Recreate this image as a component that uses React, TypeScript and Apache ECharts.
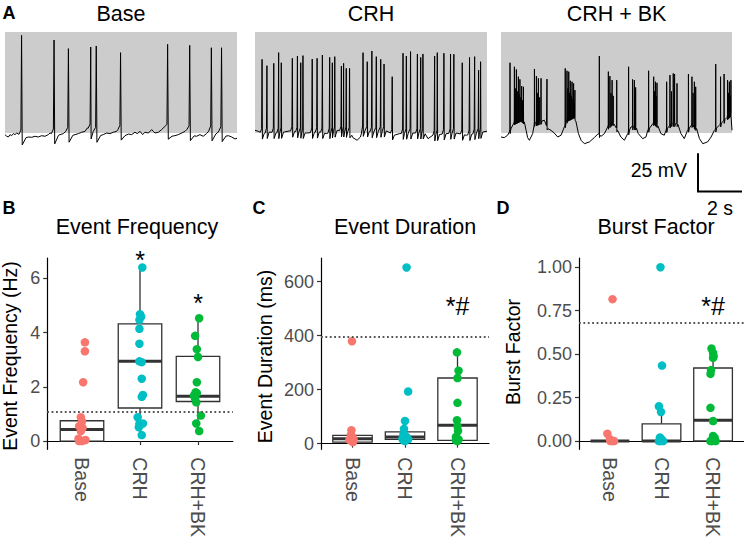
import React, { useEffect, useRef } from "react";
import * as echarts from "echarts";

const FONT = "'Liberation Sans', Arial, Helvetica, sans-serif";
const GROUPS = ["Base", "CRH", "CRH+BK"];
const GROUP_COLORS = ["#F8766D", "#00BFC4", "#00BA38"];

// ---------- Panel A traces (time in s, membrane potential in mV) ----------
const baseSpikeT = [0.75, 2.22, 2.87, 3.88, 4.13, 5.23, 7.36, 8.36, 9.34, 9.8];
const baseSpikeV = [5.8, 2.6, -3.2, -2.1, -1.4, -5.9, -0.3, -1.0, -2.6, -2.6];
const baseRestT = [0.0, 0.08, 0.15, 0.23, 0.3, 0.38, 0.45, 0.53, 0.9, 1.06, 1.21, 1.36, 1.51, 1.66, 1.81, 1.96, 2.04, 2.34, 2.49, 2.64, 2.75, 3.02, 3.17, 3.32, 3.47, 3.62, 3.73, 4.3, 4.45, 4.6, 4.75, 4.9, 5.05, 5.13, 5.43, 5.58, 5.73, 5.88, 5.99, 6.11, 6.23, 6.33, 6.49, 6.64, 6.71, 6.79, 6.94, 7.09, 7.24, 7.54, 7.69, 7.84, 8.0, 8.15, 8.25, 8.52, 8.67, 8.82, 8.97, 9.12, 9.25, 9.5, 9.61, 9.7, 9.95, 10.11, 10.26, 10.41, 10.5];
const baseRestV = [-61.1, -62.2, -62.7, -61.1, -61.8, -60.4, -61.1, -60.0, -63.4, -62.7, -62.9, -62.2, -62.7, -61.8, -62.2, -61.1, -60.0, -62.2, -61.1, -60.4, -58.9, -61.8, -61.1, -60.4, -59.5, -58.9, -56.6, -61.8, -61.1, -60.0, -60.4, -59.5, -58.9, -57.3, -61.8, -60.7, -61.1, -59.5, -60.4, -58.9, -61.1, -59.5, -60.0, -57.7, -58.9, -60.0, -59.5, -57.7, -55.5, -62.2, -61.8, -61.1, -60.0, -58.9, -57.3, -61.8, -62.2, -61.1, -62.2, -60.4, -58.2, -61.1, -60.0, -58.2, -62.2, -61.8, -62.7, -64.0, -63.5];

const crhSpikeT = [0.32, 0.54, 0.85, 1.07, 1.19, 1.69, 1.92, 2.07, 2.17, 2.59, 2.81, 3.05, 3.38, 3.5, 3.61, 3.91, 4.01, 4.13, 4.28, 4.89, 5.08, 5.29, 5.49, 5.69, 5.84, 6.21, 6.7, 6.85, 7.04, 7.35, 7.5, 7.6, 8.13, 8.25, 8.55, 8.85, 9.0, 9.38, 9.71, 9.94, 10.12, 10.21];
const crhSpikeV = [-10.4, -14.7, -13.1, -5.9, -12.7, -9.7, -8.2, -12.7, -7.9, -10.2, -9.7, -7.5, -9.1, -12.7, -8.6, -14.9, -13.1, -16.5, -16.5, -5.9, -12.0, -4.8, -8.6, -10.4, -13.6, -22.1, -6.3, -8.2, -5.2, -6.8, -9.1, -6.8, -8.2, -5.9, -6.3, -6.8, -7.0, -12.7, -9.1, -8.6, -17.6, -12.0];
const crhRestT = [0, 0.14, 0.36, 0.66, 0.97, 1.34, 1.57, 2.32, 2.93, 3.23, 3.76, 4.31, 4.43, 4.62, 4.77, 4.86, 5.34, 5.94, 6.32, 6.55, 7.15, 7.68, 7.83, 8.05, 8.66, 9.11, 9.56, 10.32, 10.5];
const crhRestV = [-58.2, -58.8, -60.4, -59.3, -60, -59.3, -58.6, -60, -59.3, -60.4, -58.2, -59.3, -63.1, -64.9, -62.7, -58.2, -59.3, -58.6, -61.5, -60.4, -60, -60, -63.8, -61.5, -60.4, -60, -61.5, -59.3, -58.8];

const bkSpikeT = [0.41, 0.61, 0.65, 0.7, 0.74, 0.79, 0.82, 0.86, 0.9, 0.94, 0.98, 1.02, 1.52, 1.61, 1.65, 1.7, 1.76, 1.82, 2.09, 2.92, 3.0, 3.04, 3.08, 3.12, 3.15, 3.19, 3.23, 3.27, 3.3, 3.33, 3.36, 4.47, 4.88, 4.95, 5.0, 5.05, 5.1, 5.26, 5.8, 5.98, 6.06, 6.09, 6.12, 6.71, 6.94, 6.98, 7.02, 7.05, 7.09, 7.53, 7.68, 7.75, 7.83, 7.89, 8.0, 8.52, 8.68, 8.73, 8.79, 8.82, 8.85, 9.76, 9.98, 10.14, 10.3, 10.34, 10.38, 10.42, 10.45];
const bkSpikeV = [-12.7, -15.4, -30, -17.2, -32, -22.1, -34, -23.9, -36, -28.4, -38, -28.9, -16.9, -21.7, -33, -23.2, -36, -23.2, -23.7, -16.5, -18.1, -30, -18.7, -33, -24.8, -35, -25.5, -37, -26.6, -40, -31.1, -8.2, -18.7, -21.7, -33, -24.4, -35, -24.4, -15.4, -23.9, -24.4, -34, -29.3, -18.1, -22.1, -32, -25.5, -35, -26.2, -25.5, -21.0, -32, -19.9, -20.3, -26.6, -20.3, -22.1, -33, -25.5, -36, -28.9, -13.6, -22.1, -20.3, -24.4, -33, -25.5, -35, -24.4];
const bkRestT = [0, 0.15, 0.3, 0.38, 0.61, 0.91, 1.06, 1.14, 1.21, 1.29, 1.44, 1.52, 1.97, 2.12, 2.27, 2.42, 2.58, 2.73, 2.88, 3.03, 3.33, 3.41, 3.52, 3.64, 3.79, 4.02, 4.24, 4.42, 4.55, 4.7, 4.85, 5.08, 5.3, 5.45, 5.61, 5.76, 5.91, 6.14, 6.24, 6.44, 6.59, 6.67, 6.97, 7.12, 7.27, 7.42, 7.5, 7.73, 8.03, 8.18, 8.33, 8.48, 8.71, 8.89, 9.02, 9.17, 9.39, 9.55, 9.7, 9.92, 10.15, 10.45, 10.5];
const bkRestV = [-62.7, -63.1, -61.5, -59.3, -52.5, -50.3, -52.5, -58.2, -63.1, -64.9, -60.4, -53.6, -51.4, -57.0, -58.2, -60, -62.7, -61.5, -55.9, -50.3, -48.0, -52.5, -60.4, -64.9, -67.2, -66.0, -63.1, -60.4, -62.2, -60.4, -55.9, -52.5, -58.2, -62.7, -64.9, -60.4, -55.9, -55.9, -60.4, -63.8, -62.7, -58.2, -52.5, -54.8, -60.4, -61.5, -58.2, -53.7, -53.7, -60.4, -63.8, -58.2, -53.7, -57.0, -63.8, -67.2, -66.0, -62.7, -58.2, -54.8, -51.4, -46.9, -58.2];

const TRACE_TITLES = ["Base", "CRH", "CRH + BK"];

// ---------- Panel B: Event Frequency (Hz) ----------
const freqBaseY = [3.64, 3.31, 2.17, 0.88, 0.73, 0.55, 0.49, 0.37, 0.09, 0.0, 0.04, 0.0];
const freqBaseJ = [0.05, 0.05, 0.02, -0.02, 0.0, -0.05, 0.01, -0.02, -0.06, 0.0, 0.06, -0.05];
const freqCrhY = [6.4, 4.68, 4.59, 4.47, 4.14, 3.59, 2.94, 2.91, 2.3, 1.7, 1.63, 0.88, 0.65, 0.64, 0.51, 0.22];
const freqCrhJ = [0.04, 0, 0.02, -0.01, -0.01, -0.01, -0.01, 0.03, 0.03, 0.05, 0.03, -0.04, 0.05, -0.01, -0.02, 0.03];
const freqBkY = [4.53, 3.88, 3.39, 3.1, 2.17, 1.8, 1.77, 1.68, 1.57, 1.43, 0.94, 0.65, 0.37];
const freqBkJ = [0.02, -0.05, -0.02, 0, -0.02, -0.04, -0.02, -0.07, -0.05, -0.03, 0.05, -0.03, 0.02];
const freqBox = [[0, 0, 0.43, 0.75, 0.88], [0.22, 1.22, 2.94, 4.32, 6.4], [0.37, 1.46, 1.65, 3.12, 4.53]];
const freqRef = 1.08;
const freqTicks = [0, 2, 4, 6];
const freqSigX = [2, 3];
const freqSigY = [6.66, 5.1];
const freqSigText = ["*", "*"];

// ---------- Panel C: Event Duration (ms) ----------
const durBaseY = [379, 50, 33, 25, 18, 16, 10, 6, 14];
const durBaseJ = [-0.01, -0.02, -0.03, 0, -0.04, 0.02, -0.02, 0.01, -0.06];
const durCrhY = [652, 193, 84, 55, 34, 25, 18, 16, 10, 12];
const durCrhJ = [0.03, 0.06, 0, -0.02, -0.03, 0.03, -0.05, 0.06, 0, -0.03];
const durBkY = [338, 270, 243, 151, 87, 65, 47, 25, 16, 12, 10];
const durBkJ = [-0.01, 0.02, 0, 0, -0.01, 0, 0.01, -0.03, 0.02, -0.03, 0];
const durBox = [[6, 6, 18, 31, 50], [10, 16, 25, 44, 84], [10, 12, 68, 243, 338]];
const durRef = 395;
const durTicks = [0, 200, 400, 600];
const durSigX = [3];
const durSigY = [510];
const durSigText = ["*#"];

// ---------- Panel D: Burst Factor ----------
const burstBaseY = [0.816, 0.042, 0.01, 0, 0, 0];
const burstBaseJ = [0.05, -0.05, 0, 0.05, 0.01, 0.08];
const burstCrhY = [1.0, 0.434, 0.2, 0.167, 0.02, 0.01, 0, 0, 0];
const burstCrhJ = [-0.02, 0.01, -0.05, -0.01, -0.03, 0, 0.03, -0.05, -0.02];
const burstBkY = [0.532, 0.507, 0.488, 0.478, 0.408, 0.386, 0.191, 0.115, 0.029, 0.019, 0, 0, 0];
const burstBkJ = [-0.03, 0, 0.01, 0, -0.04, -0.05, -0.05, 0, 0, 0.03, -0.05, 0.05, -0.02];
const burstBox = [[0, 0, 0, 0, 0], [0, 0, 0, 0.099, 0.2], [0, 0, 0.119, 0.42, 0.532]];
const burstRef = 0.679;
const burstTicks = [0, 0.25, 0.5, 0.75, 1.0];
const burstSigX = [3];
const burstSigY = [0.778];
const burstSigText = ["*#"];

// ---------- helpers ----------
type Shape = { pre: number; post: number; ramp: number; dip: number };

function buildTrace(spT: number[], spV: number[], rT: number[], rV: number[], sh: Shape, tMax: number) {
  const restAt = (t: number) => {
    if (t <= rT[0]) return rV[0];
    for (let i = 1; i < rT.length; i++) {
      if (t <= rT[i]) {
        const f = (t - rT[i - 1]) / (rT[i] - rT[i - 1]);
        return rV[i - 1] + f * (rV[i] - rV[i - 1]);
      }
    }
    return rV[rV.length - 1];
  };
  const pts: number[][] = [];
  const wins: number[][] = [];
  spT.forEach((t, i) => {
    const gPrev = i > 0 ? t - spT[i - 1] : 1;
    const gNext = i < spT.length - 1 ? spT[i + 1] - t : 1;
    const pre = Math.min(sh.pre, gPrev * 0.45);
    const post = Math.min(sh.post, gNext * 0.45);
    const b = restAt(t);
    pts.push([t - pre, restAt(t - pre)]);
    pts.push([t - pre * 0.25, b + sh.ramp]);
    pts.push([t, spV[i]]);
    pts.push([t + post * 0.15, b - sh.dip]);
    pts.push([t + post, restAt(t + post)]);
    wins.push([t - pre, t + post]);
  });
  rT.forEach((t, i) => {
    if (!wins.some(([a, b]) => t > a && t < b)) pts.push([t, rV[i]]);
  });
  pts.sort((a, b) => a[0] - b[0]);
  return pts.filter((p) => p[0] >= 0 && p[0] <= tMax);
}

const TRACE_GRIDS = [
  { left: 5, width: 232 },
  { left: 255, width: 232 },
  { left: 501, width: 231 },
];

const BOX_PANELS = [
  {
    grid: { left: 47.2, width: 185.6 },
    yMin: -0.305, yMax: 6.75, ticks: freqTicks, fmt: (v: number) => String(v),
    ys: [freqBaseY, freqCrhY, freqBkY], js: [freqBaseJ, freqCrhJ, freqBkJ],
    box: freqBox, ref: freqRef, sigX: freqSigX, sigY: freqSigY, sigT: freqSigText,
  },
  {
    grid: { left: 321, width: 168 },
    yMin: -21, yMax: 687, ticks: durTicks, fmt: (v: number) => String(v),
    ys: [durBaseY, durCrhY, durBkY], js: [durBaseJ, durCrhJ, durBkJ],
    box: durBox, ref: durRef, sigX: durSigX, sigY: durSigY, sigT: durSigText,
  },
  {
    grid: { left: 579, width: 165 },
    yMin: -0.048, yMax: 1.053, ticks: burstTicks, fmt: (v: number) => v.toFixed(2),
    ys: [burstBaseY, burstCrhY, burstBkY], js: [burstBaseJ, burstCrhJ, burstBkJ],
    box: burstBox, ref: burstRef, sigX: burstSigX, sigY: burstSigY, sigT: burstSigText,
  },
];

function txt(text: string, x: number, y: number, size: number, opts: any = {}) {
  const weight = opts.bold ? "bold" : "normal";
  return {
    type: "text",
    x,
    y,
    rotation: opts.rotation || 0,
    silent: true,
    style: {
      text,
      x: 0,
      y: 0,
      fill: opts.color || "#000",
      font: `${weight} ${size}px ${FONT}`,
      fontSize: size,
      fontFamily: FONT,
      fontWeight: weight,
      align: opts.align || "center",
      textAlign: opts.align || "center",
      verticalAlign: "middle",
      textVerticalAlign: "middle",
    },
  };
}

function buildOption() {
  const grids: any[] = [];
  const xAxes: any[] = [];
  const yAxes: any[] = [];
  const series: any[] = [];

  const traces = [
    buildTrace(baseSpikeT, baseSpikeV, baseRestT, baseRestV, { pre: 0.12, post: 0.2, ramp: 4, dip: 6 }, 10.5),
    buildTrace(crhSpikeT, crhSpikeV, crhRestT, crhRestV, { pre: 0.08, post: 0.1, ramp: 3, dip: 4 }, 10.5),
    buildTrace(bkSpikeT, bkSpikeV, bkRestT, bkRestV, { pre: 0.02, post: 0.04, ramp: 1, dip: 2 }, 10.5),
  ];

  TRACE_GRIDS.forEach((g, i) => {
    grids.push({ left: g.left, width: g.width, top: 32, height: 101, show: true, backgroundColor: "#cccccc", borderWidth: 0 });
    xAxes.push({ type: "value", gridIndex: i, min: 0, max: 10.5, show: false });
    yAxes.push({ type: "value", gridIndex: i, min: -60, max: 8, show: false });
    series.push({
      type: "line",
      xAxisIndex: i,
      yAxisIndex: i,
      data: traces[i],
      showSymbol: false,
      symbol: "none",
      clip: false,
      silent: true,
      lineStyle: { color: "#000", width: 1 },
    });
  });

  BOX_PANELS.forEach((p, k) => {
    const idx = 3 + k;
    grids.push({ left: p.grid.left, width: p.grid.width, top: 258, height: 192 });
    xAxes.push({
      type: "value",
      gridIndex: idx,
      min: 0.4,
      max: 3.6,
      splitLine: { show: false },
      axisLine: { show: true, lineStyle: { color: "#000", width: 1.2 } },
      axisTick: { show: true, length: 4, customValues: [1, 2, 3], lineStyle: { color: "#333", width: 1.2 } },
      axisLabel: {
        customValues: [1, 2, 3],
        formatter: (v: number) => GROUPS[Math.round(v) - 1],
        rotate: -90,
        margin: 8,
        color: "#4D4D4D",
        fontSize: 19.5,
        fontFamily: FONT,
      },
    });
    yAxes.push({
      type: "value",
      gridIndex: idx,
      min: p.yMin,
      max: p.yMax,
      splitLine: { show: false },
      axisLine: { show: true, lineStyle: { color: "#000", width: 1.2 } },
      axisTick: { show: true, length: 4, customValues: p.ticks, lineStyle: { color: "#333", width: 1.2 } },
      axisLabel: {
        customValues: p.ticks,
        formatter: p.fmt,
        margin: 7,
        color: "#4D4D4D",
        fontSize: 18,
        fontFamily: FONT,
      },
    });
    series.push({
      type: "custom",
      xAxisIndex: idx,
      yAxisIndex: idx,
      z: 2,
      silent: true,
      data: p.box.map((b, i) => [i + 1, ...b]),
      encode: { x: 0, y: [1, 2, 3, 4, 5] },
      renderItem: (params: any, api: any) => {
        const x = api.value(0);
        const lo = api.coord([x, api.value(1)]);
        const q1 = api.coord([x, api.value(2)]);
        const md = api.coord([x, api.value(3)]);
        const q3 = api.coord([x, api.value(4)]);
        const hi = api.coord([x, api.value(5)]);
        const half = api.size([0.75, 0])[0] / 2;
        const ls = { stroke: "#333333", lineWidth: 1.3 };
        return {
          type: "group",
          children: [
            { type: "line", shape: { x1: lo[0], y1: lo[1], x2: q1[0], y2: q1[1] }, style: ls },
            { type: "line", shape: { x1: q3[0], y1: q3[1], x2: hi[0], y2: hi[1] }, style: ls },
            { type: "rect", shape: { x: q3[0] - half, y: q3[1], width: half * 2, height: q1[1] - q3[1] }, style: { fill: "#ffffff", stroke: "#333333", lineWidth: 1.3 } },
            { type: "line", shape: { x1: md[0] - half, y1: md[1], x2: md[0] + half, y2: md[1] }, style: { stroke: "#333333", lineWidth: 3 } },
          ],
        };
      },
    });
    p.ys.forEach((vals, g) => {
      series.push({
        type: "scatter",
        xAxisIndex: idx,
        yAxisIndex: idx,
        z: 3,
        silent: true,
        symbolSize: 8.5,
        itemStyle: { color: GROUP_COLORS[g], opacity: 1 },
        data: vals.map((v, i) => [g + 1 + p.js[g][i], v]),
        markLine:
          g === 0
            ? {
                silent: true,
                symbol: ["none", "none"],
                label: { show: false },
                lineStyle: { color: "#555555", width: 1.8, type: [1.8, 2.6], opacity: 1 },
                data: [{ yAxis: p.ref }],
              }
            : undefined,
      });
    });
    series.push({
      type: "scatter",
      xAxisIndex: idx,
      yAxisIndex: idx,
      z: 4,
      silent: true,
      symbolSize: 1,
      itemStyle: { color: "rgba(0,0,0,0)" },
      clip: false,
      data: p.sigX.map((x, i) => [x, p.sigY[i], p.sigT[i]]),
      encode: { x: 0, y: 1 },
      label: {
        show: true,
        position: "inside",
        formatter: (d: any) => d.data[2],
        color: "#000000",
        opacity: 1,
        textBorderWidth: 0,
        fontSize: 25,
        fontFamily: FONT,
      },
    });
  });

  const graphics: any[] = [
    txt("A", 2.5, 12.5, 18, { bold: true, align: "left" }),
    txt("B", 2.5, 207.5, 18, { bold: true, align: "left" }),
    txt("C", 252.5, 207.5, 18, { bold: true, align: "left" }),
    txt("D", 496.5, 207.5, 18, { bold: true, align: "left" }),
    txt("Event Frequency", 137, 227, 21.5),
    txt("Event Duration", 405, 227, 21.5),
    txt("Burst Factor", 656, 227, 21.5),
    txt("Event Frequency (Hz)", 9.5, 356, 19.5, { rotation: Math.PI / 2 }),
    txt("Event Duration (ms)", 265, 356.5, 19.5, { rotation: Math.PI / 2 }),
    txt("Burst Factor", 513, 352, 19.5, { rotation: Math.PI / 2 }),
    txt("25 mV", 687, 170, 19.5, { align: "right" }),
    txt("2 s", 720, 207.5, 19.5),
    { type: "line", silent: true, shape: { x1: 698, y1: 153.3, x2: 698, y2: 191.5 }, style: { stroke: "#000", lineWidth: 2 } },
    { type: "line", silent: true, shape: { x1: 697, y1: 191.5, x2: 742, y2: 191.5 }, style: { stroke: "#000", lineWidth: 2 } },
  ];
  TRACE_GRIDS.forEach((g, i) => {
    graphics.push(txt(TRACE_TITLES[i], g.left + g.width / 2, 13.7, 21.5));
  });

  return {
    animation: false,
    backgroundColor: "#ffffff",
    textStyle: { fontFamily: FONT },
    grid: grids,
    xAxis: xAxes,
    yAxis: yAxes,
    series,
    graphic: graphics,
  };
}

export default function App() {
  const ref = useRef<HTMLDivElement>(null);
  useEffect(() => {
    if (!ref.current) return;
    const chart = echarts.init(ref.current, null, { renderer: "svg" });
    chart.setOption(buildOption() as any);
    return () => chart.dispose();
  }, []);
  return (
    <div
      ref={ref}
      style={{ position: "absolute", left: 0, top: 0, width: 744, height: 540, background: "#fff" }}
    />
  );
}
